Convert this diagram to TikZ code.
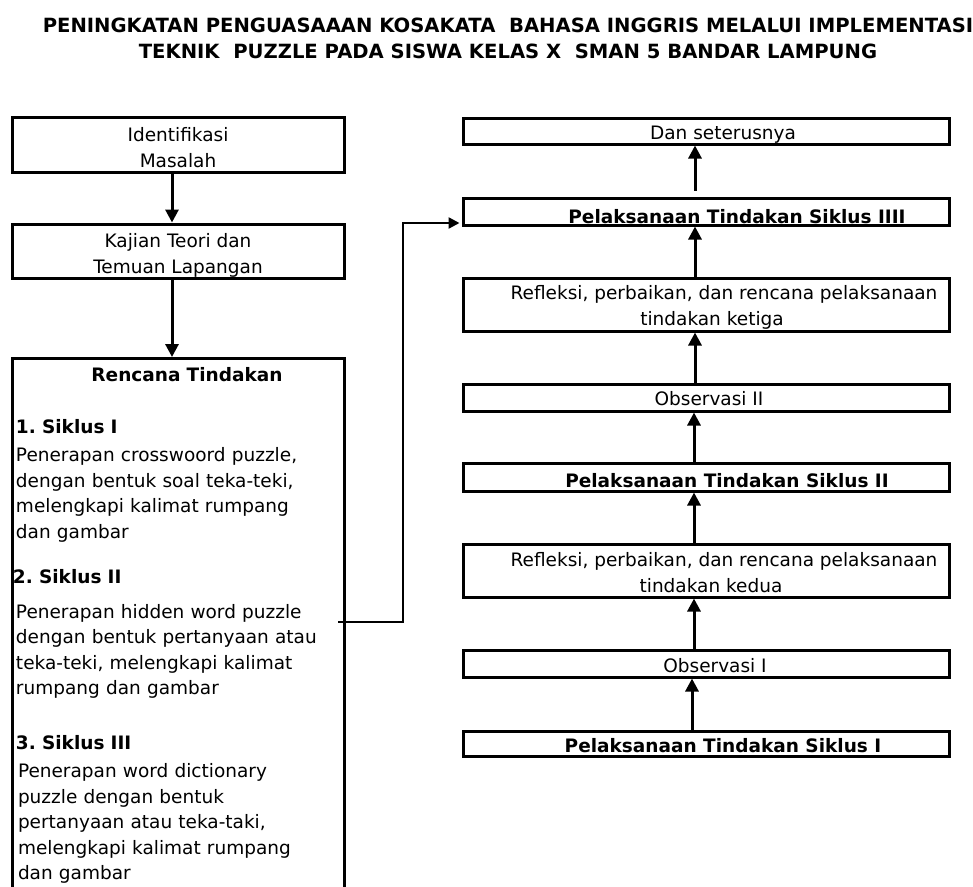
\documentclass[tikz,border=0pt]{standalone}
\usepackage{fontspec}
\setmainfont{DejaVu Sans}
\usetikzlibrary{arrows.meta, positioning}
\frenchspacing

\begin{document}
\begin{tikzpicture}[
    x=1pt, y=-1pt,
    every node/.style={font=\fontsize{18.5}{25.5}\selectfont},
    cell/.style 2 args={draw=black, line width=3pt, minimum width=486pt, inner xsep=0pt, inner ysep=0pt, align=center, text height=#1, text depth=#2},
    leftcell/.style 2 args={draw=black, line width=3pt, minimum width=332pt, inner xsep=0pt, inner ysep=0pt, align=center, text height=#1, text depth=#2},
    flow/.style={-{Triangle[length=13pt, width=13pt]}, line width=3pt},
    link/.style={-{Triangle[length=11pt, width=11pt]}, line width=2.4pt}
]
\clip (0,0) rectangle (973,886);

% Title
\node[align=center, inner sep=0pt, text height=40pt, text depth=4pt, font=\fontsize{19.6}{26}\selectfont\bfseries] (title) at (508,40)
    {PENINGKATAN PENGUASAAAN KOSAKATA \ BAHASA INGGRIS MELALUI IMPLEMENTASI\\TEKNIK \ PUZZLE PADA SISWA KELAS X \ SMAN 5 BANDAR LAMPUNG};

% Left column
\node[leftcell={50pt}{5pt}] (ident) at (178,144.5) {Identifikasi\\Masalah};
\node[leftcell={49pt}{5pt}] (kajian) at (178,251) {Kajian Teori dan\\Temuan Lapangan};
\node[leftcell={23pt}{560pt}, anchor=north, text width=324pt, align=left, inner xsep=4pt] (plan) at (178,357)
    {\makebox[\linewidth][c]{\hspace*{18pt}\textbf{Rencana Tindakan}}\\[26.5pt]
     \textbf{1. Siklus I}\\[2.5pt]
     Penerapan crosswoord puzzle,\\
     dengan bentuk soal teka-teki,\\
     melengkapi kalimat rumpang\\
     dan gambar\\[19.5pt]
     \hspace*{-3pt}\textbf{2. Siklus II}\\[9.5pt]
     Penerapan hidden word puzzle\\
     dengan bentuk pertanyaan atau\\
     teka-teki, melengkapi kalimat\\
     rumpang dan gambar\\[29.5pt]
     \textbf{3. Siklus III}\\[2.5pt]
     \hspace*{2pt}Penerapan word dictionary\\
     \hspace*{2pt}puzzle dengan bentuk\\
     \hspace*{2pt}pertanyaan atau teka-taki,\\
     \hspace*{2pt}melengkapi kalimat rumpang\\
     \hspace*{2pt}dan gambar};

% Right column
\node[cell={21pt}{5pt}] (next) at (706,131) {\hspace*{34pt}Dan seterusnya};
\node[cell={25pt}{2pt}] (act4) at (706,211.5) {\hspace*{62pt}\textbf{Pelaksanaan Tindakan Siklus IIII}};
\node[cell={47pt}{6pt}] (refl3) at (706,304.5) {\hspace*{36pt}Refleksi, perbaikan, dan rencana pelaksanaan\\\hspace*{12pt}tindakan ketiga};
\node[cell={21pt}{6pt}] (obs2) at (706,397.5) {\hspace*{6pt}Observasi II};
\node[cell={24pt}{4pt}] (act2) at (706,477) {\hspace*{42pt}\textbf{Pelaksanaan Tindakan Siklus II}};
\node[cell={48pt}{5pt}] (refl2) at (706,570.5) {\hspace*{36pt}Refleksi, perbaikan, dan rencana pelaksanaan\\\hspace*{10pt}tindakan kedua};
\node[cell={22pt}{5pt}] (obs1) at (706,663.5) {\hspace*{18pt}Observasi I};
\node[cell={21pt}{4pt}] (act1) at (706,743.5) {\hspace*{34pt}\textbf{Pelaksanaan Tindakan Siklus I}};

% Arrows
\draw[flow] ([xshift=-6pt]ident.south) -- ([xshift=-6pt]kajian.north);
\draw[flow] ([xshift=-6pt]kajian.south) -- ([xshift=-6pt]plan.north);
\draw[flow] ([xshift=-14pt]act1.north) -- ([xshift=-14pt]obs1.south);
\draw[flow] ([xshift=-12pt]obs1.north) -- ([xshift=-12pt]refl2.south);
\draw[flow] ([xshift=-12pt]refl2.north) -- ([xshift=-12pt]act2.south);
\draw[flow] ([xshift=-12pt]act2.north) -- ([xshift=-12pt]obs2.south);
\draw[flow] ([xshift=-11pt]obs2.north) -- ([xshift=-11pt]refl3.south);
\draw[flow] ([xshift=-11pt]refl3.north) -- ([xshift=-11pt]act4.south);
\draw[flow] ([xshift=-11pt,yshift=6pt]act4.north) -- ([xshift=-11pt]next.south);

% Link from plan to cycle IIII
\coordinate (branch) at (338,622);
\draw[link] (branch) -- ++(65,0) |- ([yshift=-11.5pt,xshift=-2pt]act4.west);

\end{tikzpicture}
\end{document}
